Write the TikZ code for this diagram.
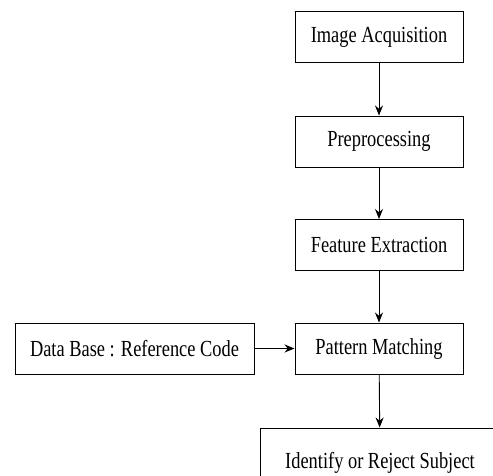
\documentclass[tikz,border=0pt]{standalone}
\usepackage{fontspec}
\setmainfont[FakeStretch=0.8]{Liberation Serif}
\usetikzlibrary{arrows.meta}

\begin{document}
\begin{tikzpicture}[x=1pt, y=-1pt,
  stage/.style={rectangle, draw, line width=1pt, minimum width=168pt, minimum height=51pt, font=\fontsize{23}{26}\selectfont},
  flow/.style={line width=0.9pt, -{Stealth[length=10pt, width=8pt]}}]
\useasboundingbox (0, 0) rectangle (493, 475);
\clip (0, 0) rectangle (493, 475);

\node at (379, 37) [stage] (acq) {Image Acquisition};
\node at (379, 141.5) [stage] (pre) {Preprocessing};
\node at (379, 245) [stage] (feat) {Feature Extraction};
\node at (379, 348.5) [stage] (match) {Pattern Matching};
\node at (134.5, 348.5) [stage, minimum width=239pt] (db) {Data Base : Reference Code};
\node at (380, 463) [stage, minimum width=240pt, minimum height=70pt] (ident) {Identify or Reject Subject};

\draw[flow] (acq) -- (pre);
\draw[flow] (pre) -- (feat);
\draw[flow] (feat) -- (match);
\draw[flow] (db) -- (match);
\draw[flow] (match) -- (ident);
\end{tikzpicture}
\end{document}
